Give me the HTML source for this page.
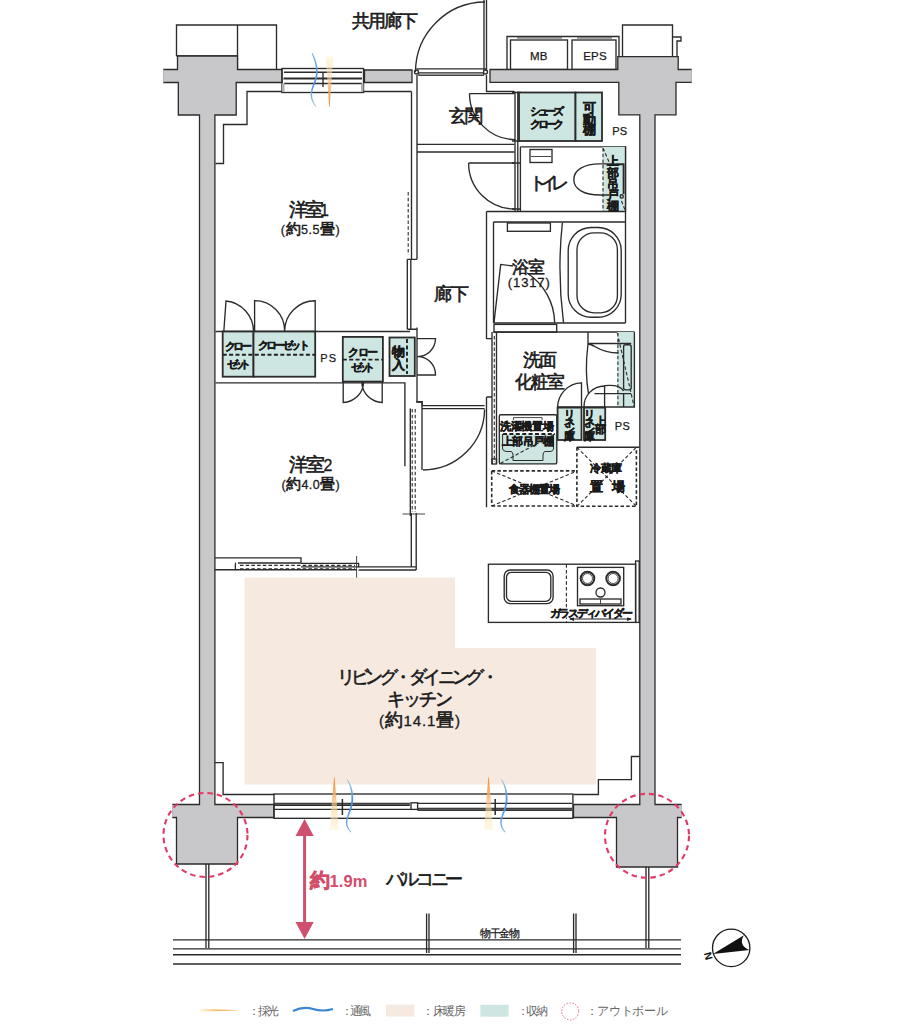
<!DOCTYPE html>
<html><head><meta charset="utf-8">
<style>
html,body{margin:0;padding:0;background:#fff;}
body{width:908px;height:1024px;overflow:hidden;}
svg{display:block;font-family:"Liberation Sans",sans-serif;}
.w{fill:#c8c8ca;stroke:#2b2b2b;stroke-width:1.3;}
.l{fill:none;stroke:#2b2b2b;stroke-width:1.35;}
.lt{fill:none;stroke:#333;stroke-width:0.9;}
.d{fill:none;stroke:#2b2b2b;stroke-width:1.1;stroke-dasharray:3.5 2.2;}
.dk{fill:none;stroke:#222;stroke-width:1.9;stroke-dasharray:4 2.4;}
.tl{fill:#cde6e2;stroke:#2b2b2b;stroke-width:1.8;}
.t{fill:#1a1a1a;stroke:#1a1a1a;stroke-width:0.3px;}
.t .cj{stroke:#1a1a1a;stroke-width:0.6px;}
.ts .cj{stroke:#1a1a1a;stroke-width:0.4px;}
.tr .cj{stroke:#d34d6b;stroke-width:0.6px;}
.ts{fill:#1a1a1a;font-weight:bold;}
.tn{fill:#1a1a1a;stroke:#1a1a1a;stroke-width:0.25px;}
.tr{fill:#d34d6b;font-weight:bold;}
.tg{fill:#666;}
.cj{font-size:1.2em;}
</style></head><body>
<svg width="908" height="1024" viewBox="0 0 908 1024">
<defs>
<linearGradient id="gOrU" x1="0" y1="1" x2="0" y2="0"><stop offset="0" stop-color="#f08a2a"/><stop offset="0.45" stop-color="#f8c888" stop-opacity="0.8"/><stop offset="1" stop-color="#fdf0c8" stop-opacity="0.5"/></linearGradient>
<linearGradient id="gOrD" x1="0" y1="0" x2="0" y2="1"><stop offset="0" stop-color="#f08a2a"/><stop offset="0.45" stop-color="#f8c888" stop-opacity="0.8"/><stop offset="1" stop-color="#fdf0c8" stop-opacity="0.5"/></linearGradient>
<linearGradient id="gOrL" x1="1" y1="0" x2="0" y2="0"><stop offset="0" stop-color="#f08a2a"/><stop offset="0.6" stop-color="#f7c070"/><stop offset="1" stop-color="#fdf0c8" stop-opacity="0.5"/></linearGradient>
</defs>
<rect width="908" height="1024" fill="#fff"/>
<!-- LDK floor -->
<path d="M244.5 577.5 H455 V648 H596 V784.5 H244.5 Z" fill="#f5e9e0"/>

<!-- ===== TOP ===== -->
<path class="l" d="M176.5 56 V25 H276.5 V69 M237.5 25 V69 M176.5 56 H237.5"/>
<path class="l" d="M622.5 56 V25 H672.5 V56"/>
<path class="l" d="M672.5 37 H681 V41 H677 V56"/>
<!-- MB / EPS -->
<path class="l" d="M507 69.5 V36.5 H619 V56"/>
<rect class="l" x="510.5" y="40" width="57" height="29.5"/>
<rect class="l" x="572" y="40" width="44" height="29.5"/>
<path class="lt" d="M517 38 H562 M577 38 H612"/>

<!-- walls -->
<path class="w" d="M164 69.5 H177.5 V56 H237.5 V69.5 H282 V82.5 H236.2 V115 H214.9 V804.5 H274 V817.5 H237.5 V864 H176.5 V817.5 H173 V804.5 H199.5 V115 H178.3 V82.5 H164 Z"/>
<path class="w" d="M490 69.5 H617.8 V56.6 H678.2 V69.5 H691 V82.3 H676 V114.8 H655 V804.5 H681 V817.5 H677.5 V867 H616.5 V817.5 H573.5 V804.5 H639.8 V114.8 H618.8 V82.3 H490 Z"/>
<path class="w" d="M364.5 70 H412 V82.5 H364.5 Z"/>
<path d="M163.2 70.2 H165.5 V81.8 H163.2 Z M689.2 70.2 H691.8 V81.6 H689.2 Z M172.2 805.2 H174.5 V816.8 H172.2 Z M679.6 805.2 H681.8 V816.8 H679.6 Z" fill="#c8c8ca"/>

<!-- top window -->
<rect class="l" x="282" y="68.5" width="81.5" height="24" fill="#fff"/>
<path class="l" d="M284 72.2 H362 M284 83.5 H362 M323 72 V87"/><path class="l" style="stroke-width:1.9" d="M283.5 78.5 H362"/>
<path d="M282 83.5 H284.5 V92 H282 Z M361 83.5 H363.5 V92 H361 Z" fill="#b0b0b0"/>

<!-- room1 top inner outline -->
<path class="l" d="M215.5 163.5 H223.5 V124.5 H247 V91.5 H282 M363.5 91.5 H411.5"/>

<!-- entrance door -->
<path class="l" d="M416.5 68.9 H486 M484 0 V70 M486.5 0 V70"/>
<rect x="418.7" y="72.7" width="65" height="2.8" fill="#9a9a9a" stroke="#333" stroke-width="0.9"/>
<path class="l" d="M415.5 72 A70 70 0 0 1 485 2"/>
<circle class="l" cx="416.5" cy="72" r="2" fill="#fff"/>
<circle class="l" cx="485.5" cy="72" r="2" fill="#fff"/>
<path class="l" d="M486.5 75 V91.5 H514.5"/>

<!-- room1 right wall / corridor left wall -->
<path class="l" d="M411.5 91.5 V259.3 M417 75 V259.3 M407.3 259.3 H417 M407.3 259.3 V329.2 M410.8 259.3 V329.2 M407.3 329.2 H417 M417 327.5 V402 H422.2 V406"/>
<path class="d" d="M408.2 192 V255"/>

<!-- genkan step -->
<path class="l" d="M417 144.3 H514.5 M417 152 H514.5"/>
<!-- entrance right wall -->
<path class="l" d="M515 91.5 V211.5 M517.8 91.5 V211.5"/>
<path class="l" d="M512 92.5 H521 M512 141 H521 M512 163 H521 M512 209 H521"/>
<!-- shoes cloak -->
<rect class="tl" x="519" y="92.5" width="56.5" height="48.5"/>
<rect class="tl" x="575.5" y="92.5" width="26.5" height="48.5"/>
<!-- genkan door arc -->
<path class="l" d="M469.5 93.6 H514.5 M469.5 93.6 A46 46 0 0 0 515.5 139.6"/>
<!-- toilet door arc -->
<path class="l" d="M468.6 163 H514.5 M468.6 163 A46 46 0 0 0 514.6 209"/>

<!-- toilet -->
<path class="l" d="M520.4 146.8 H625.5 V211.5 M520.4 146.8 V211.5"/>
<rect class="tl" x="602.7" y="147" width="22.8" height="64.5" style="stroke:none"/>
<path class="l" d="M625.5 146.5 V211.5"/>
<path class="d" d="M603 148 V211 M603 148 L609.5 163 M621.5 201 L625 210"/>
<rect class="l" x="530" y="149.5" width="22" height="13"/>
<path class="lt" d="M531 156.5 H551"/>
<path class="l" d="M615.5 163.8 H600 C584 163.8 573.8 170 573.8 179.4 C573.8 189 584 195 600 195 H609.3"/>
<path class="l" d="M615.5 164.2 H623.6 V194" style="stroke-width:1.9"/>
<circle class="l" cx="621.7" cy="196.4" r="1.6"/>


<!-- bath -->
<path class="l" d="M486.5 211.5 H625.5 V323 M486.5 211.5 V338.6 H492"/>
<path class="l" d="M493.5 222 H625.5 M493.5 222 V323 M493.5 323 H625.5 M493.5 332 H634.4"/>
<rect class="l" x="507.4" y="223" width="43" height="8.3"/>
<path class="l" d="M562.4 222.5 Q557 272 563.5 322.7"/>
<rect class="l" x="568.2" y="227.5" width="53" height="89.7" rx="23"/>
<rect class="l" x="577" y="232.8" width="40.4" height="80" rx="17"/>
<path class="l" d="M512.9 266 L500.7 264.4 L494 322.7 M527 273 A60.7 60.7 0 0 1 554.7 322.7"/>
<rect class="l" x="494" y="324.4" width="62.7" height="7.8"/>

<!-- washroom -->
<path class="l" d="M492 332 V464 M496.5 332 V464 M486.5 397 H492 M486.5 397 V507.3"/>
<path class="d" d="M494.3 336 V462"/>
<rect class="l" x="492" y="459" width="4.5" height="5"/>
<!-- vanity -->
<rect class="tl" x="617.3" y="332" width="17.1" height="75" style="stroke:none"/>
<path class="l" d="M634.4 332 V407 H557.5"/>
<path class="l" d="M588 332 V344 M588 343.5 H631.2 M588 344 C595 344 598 353 618.5 353 M588 344 C586 360 586 380 588.5 393.6 M594.4 393.6 H631.2 M623.6 393.6 V407"/>
<rect class="l" x="623.6" y="344.7" width="7.6" height="45.1" rx="2"/>
<path class="d" d="M617.9 333 V406 M617.3 333 L634 406"/>
<!-- linen -->
<rect class="tl" x="557.6" y="407.6" width="23.9" height="32.4"/>
<rect class="tl" x="584" y="407.6" width="21.2" height="32.4"/>
<path class="l" d="M581.5 407.6 V382.8 A24.7 24.7 0 0 0 557.6 407.6"/>
<path class="l" d="M604.6 407.6 V386 A20.6 20.6 0 0 0 584 407.6"/>
<path class="l" d="M604.6 385.6 C613 384.8 620.5 385.5 623.6 391"/>
<!-- washer -->
<rect x="499.3" y="434" width="57.5" height="30" fill="#cde6e2"/>
<rect class="l" x="499.3" y="414.7" width="57.5" height="49.2" rx="1.5"/>
<path class="lt" d="M513.4 420 V417.6 H542.1 V420"/>
<path class="dk" d="M503 434 H555"/>
<path class="l" d="M502.6 434 V449 Q503 451.5 507 451.5 H511 Q513 452 513 455 V460.5 H543 V455 Q543 452 545 451.5 H550 Q553 451.5 553.5 449 V434" style="stroke-width:1"/>
<path class="d" d="M500.5 463.3 L555 434"/>
<!-- shokki -->
<path class="d" d="M491.7 470.9 L577.3 506 M491.7 506 L577.3 470.9"/><path class="d" style="stroke-width:1.6" d="M491.7 470.9 H577.3 M491.7 506 H577.3 M491.7 470.9 V506"/>
<!-- fridge -->
<path class="l" d="M576.9 447.3 H639.4" style="stroke-width:1.6"/>
<path class="d" d="M576.9 447.3 L636.4 506.3 M576.9 506.3 L636.4 447.3"/><path class="d" style="stroke-width:1.6" d="M576.9 447.3 V506.3 H636.4 V447.3"/>

<!-- corridor-room2 area -->
<path class="l" d="M215.5 382.8 H404.9 V466.2 M410.3 408.6 V516 M416.2 401.7 H422 V470"/>
<path class="d" d="M412.2 409 V512 M415.2 409 V512"/>
<path class="l" d="M422 405.6 H484.6 M422 408.6 H484.6 M484.6 409.5 A61.6 61.6 0 0 1 423 470"/>
<!-- closets -->
<path class="l" d="M215.5 331.5 H410"/>
<rect class="tl" x="222.7" y="331.5" width="30.8" height="45.2"/>
<rect class="tl" x="253.5" y="331.5" width="61.7" height="45.2"/>
<path class="dk" d="M222.7 354.7 H315.2"/>
<path class="l" d="M223.8 331.5 L226 301 A30.5 30.5 0 0 1 253.5 331.5 M254.6 331.5 V300.7 A30 30 0 0 1 284.6 331.5 M315.2 331.5 V300.7 A30.6 30.6 0 0 0 284.6 331.5"/>
<rect class="tl" x="342.8" y="336.9" width="40.1" height="44.7"/>
<path class="dk" d="M342.8 359.6 H382.9"/>
<path class="l" d="M343.2 381.6 V402.5 A21 21 0 0 0 363.6 382 M382.2 381.6 V402.5 A21 21 0 0 1 361.8 382"/>
<rect class="tl" x="389.5" y="337.5" width="25.3" height="38.5"/>
<path class="dk" d="M407 339 V374"/>
<path class="l" d="M417 338.6 H435.5 A18 18 0 0 1 417 356.6 A18 18 0 0 1 435.5 375 H417"/>

<!-- room2 bottom sliding door -->
<path class="l" d="M214.9 557.8 H301 V562.8 M214.9 569.7 H235.7"/>
<path class="l" d="M238 563 H301 M236 563 Q235 563 235.5 569.7 H356.6 M301 563.4 H358.6 V566.8 H301"/>
<path class="d" d="M240 565.4 H355 M240 568.7 H355"/>
<path class="l" d="M358.6 566.9 H416.2 M358.6 570 H416.2 M416.2 513 V570 M411.3 513 V567"/>
<path class="lt" d="M356.6 556 V577.7 M402.5 514 H425"/>

<!-- kitchen -->
<rect class="l" x="488.4" y="564.2" width="147.2" height="58.2"/>
<rect class="l" x="635.6" y="561" width="3.6" height="61.4"/>
<rect class="l" x="504.2" y="570" width="48.9" height="33.6" rx="6"/>
<rect class="l" x="506.5" y="572.3" width="44.3" height="29" rx="5"/>
<path class="d" d="M566.4 564.2 V622.4"/>
<rect class="l" x="577.5" y="567.4" width="46.2" height="38.3"/>
<circle class="l" cx="587.5" cy="578.5" r="6.8" style="stroke-width:2"/><circle class="lt" cx="587.5" cy="578.5" r="5"/>
<circle class="l" cx="613.1" cy="578.5" r="6.8" style="stroke-width:2"/><circle class="lt" cx="613.1" cy="578.5" r="5"/>
<circle class="l" cx="600.5" cy="592.5" r="4.5"/>
<rect class="l" x="580" y="599" width="41" height="5"/>
<path class="lt" d="M600.5 599 V604"/>
<path d="M570 619 H631" stroke="#222" stroke-width="1.1"/><path d="M569 619 L574 617 V621 Z M632 619 L627 617 V621 Z" fill="#222"/>

<!-- LDK inner lines -->
<path class="l" d="M214.5 762.6 H223.1 V794.5 H274 M639.7 756.5 H631.4 V779.6 H598.4 V794.5 H573.6"/>

<!-- bottom window -->
<rect class="l" x="274" y="794" width="298.9" height="24.3" fill="none"/>
<path class="l" d="M274 803.3 H409.8 M274 805.2 H409.8 M417.5 808.4 H572 M417.5 810.3 H572 M274 809.3 H411 M417.5 803.3 H572"/>
<path d="M275 803.5 H409.8 V805 H275 Z M418 808.5 H572 V810.3 H418 Z" fill="#555"/>
<rect class="l" x="411" y="802.8" width="6.6" height="6.6" fill="#fff"/>
<path class="l" d="M342.4 799 V815 M495.2 799 V815" style="stroke-width:1.5"/>


<!-- airflow icons -->
<defs>
<linearGradient id="bl" x1="0" y1="0" x2="0" y2="1"><stop offset="0" stop-color="#a8c8ee"/><stop offset="0.45" stop-color="#4a8edc"/><stop offset="1" stop-color="#80b4ea"/></linearGradient>
<linearGradient id="blU" x1="0" y1="1" x2="0" y2="0"><stop offset="0" stop-color="#a8c8ee"/><stop offset="0.45" stop-color="#4a8edc"/><stop offset="1" stop-color="#80b4ea"/></linearGradient>
<linearGradient id="orD2" x1="0" y1="0" x2="0" y2="1"><stop offset="0" stop-color="#f08a30"/><stop offset="0.3" stop-color="#f5a860" stop-opacity="0.85"/><stop offset="0.6" stop-color="#fad8a0" stop-opacity="0.6"/><stop offset="1" stop-color="#fdf0c8" stop-opacity="0.45"/></linearGradient>
<linearGradient id="orU2" x1="0" y1="1" x2="0" y2="0"><stop offset="0" stop-color="#f08a30"/><stop offset="0.3" stop-color="#f5a860" stop-opacity="0.85"/><stop offset="0.6" stop-color="#fad8a0" stop-opacity="0.6"/><stop offset="1" stop-color="#fdf0c8" stop-opacity="0.45"/></linearGradient>
</defs>
<path d="M325.5 56.5 H333.5 C332 72 330.8 92 329.8 107 H329.2 C328.2 92 327 72 325.5 56.5 Z" fill="url(#orU2)"/>
<path d="M312.5 53 C316 60 318.2 66 317.6 74 C317 82 312 88 312 95 C312 99 314 103 316.3 106.5 L315.6 106.8 C312.5 103 310.6 99 310.6 95 C310.6 87 315.6 81 316 74 C316.4 66 314.5 60 311.6 53.4 Z" fill="url(#blU)"/>
<g id="ic1">
<path d="M334 777.5 H334.6 C335.6 790 337.5 808 338.6 830 H330 C331.1 808 333 790 334 777.5 Z" fill="url(#orD2)"/>
<path d="M347.4 779 C351.5 785 353.6 792 353.2 800 C352.8 810 347.6 815.5 347.4 822.5 C347.3 826 349 829 351.3 832 L350.6 832.4 C347.8 829.5 345.8 826 345.9 822.5 C346.2 815 351 809.5 351.4 800 C351.8 792 350.3 785.5 346.8 779.4 Z" fill="url(#bl)"/>
</g>
<use href="#ic1" x="154.3"/>

<!-- balcony -->
<path class="l" d="M206 864 V948 M208.8 864 V948 M646 867 V948 M648.8 867 V948"/>
<path class="l" d="M173 939.9 H681 M173 948.8 H681 M173 954.7 H681 M173 964 H681"/>
<path class="l" d="M426.6 913.4 V953 M429 913.4 V953 M573.6 913.4 V953 M576 913.4 V953"/>

<!-- red dashed circles -->
<circle cx="205.5" cy="835" r="42" fill="none" stroke="#e23a65" stroke-width="2.1" stroke-dasharray="5.5 4"/>
<circle cx="647" cy="835.8" r="42" fill="none" stroke="#e23a65" stroke-width="2.1" stroke-dasharray="5.5 4"/>

<!-- red arrow -->
<path d="M304.6 829 V928" stroke="#cf4f6e" stroke-width="3"/>
<path d="M304.6 819 L295.5 836 H313.7 Z M304.6 939 L295.5 922 H313.7 Z" fill="#cf4f6e"/>

<!-- texts -->
<rect x="552" y="607.5" width="80" height="10" fill="#fff"/>

<text id="lb0" class="t" x="385.1" y="26.7" font-size="15" text-anchor="middle" textLength="66.5" lengthAdjust="spacing"><tspan class="cj">共用廊下</tspan></text>
<text id="lb1" class="t" x="466.4" y="121.7" font-size="15" text-anchor="middle" textLength="34.0" lengthAdjust="spacing"><tspan class="cj">玄関</tspan></text>
<text id="lb2" class="t" x="309.1" y="215.5" font-size="16" text-anchor="middle" textLength="39.7" lengthAdjust="spacing"><tspan class="cj">洋室</tspan>1</text>
<text id="lb3" class="t" x="310.3" y="234.3" font-size="12.5" text-anchor="middle" textLength="58.9" lengthAdjust="spacing">(<tspan class="cj">約</tspan>5.5<tspan class="cj">畳</tspan>)</text>
<text id="lb4" class="t" x="310.9" y="471.3" font-size="16" text-anchor="middle" textLength="43.2" lengthAdjust="spacing"><tspan class="cj">洋室</tspan>2</text>
<text id="lb5" class="t" x="310.6" y="489.1" font-size="12.5" text-anchor="middle" textLength="58.3" lengthAdjust="spacing">(<tspan class="cj">約</tspan>4.0<tspan class="cj">畳</tspan>)</text>
<text id="lb6" class="t" x="451.9" y="299.5" font-size="15" text-anchor="middle" textLength="35.0" lengthAdjust="spacing"><tspan class="cj">廊下</tspan></text>
<text id="lb7" class="t" x="549.1" y="189.3" font-size="15" text-anchor="middle" textLength="40.5" lengthAdjust="spacing"><tspan class="cj">トイレ</tspan></text>
<text id="lb8" class="t" x="528.1" y="272.5" font-size="14" text-anchor="middle" textLength="33.1" lengthAdjust="spacing"><tspan class="cj">浴室</tspan></text>
<text id="lb9" class="t" x="528.8" y="287.1" font-size="13" text-anchor="middle" textLength="41.9" lengthAdjust="spacing">(1317)</text>
<text id="lb10" class="t" x="539.9" y="365.9" font-size="15" text-anchor="middle" textLength="34.0" lengthAdjust="spacing"><tspan class="cj">洗面</tspan></text>
<text id="lb11" class="t" x="540.4" y="387.7" font-size="15" text-anchor="middle" textLength="50.1" lengthAdjust="spacing"><tspan class="cj">化粧室</tspan></text>
<text id="lb12" class="t" x="417.7" y="682.9" font-size="15" text-anchor="middle" textLength="162.4" lengthAdjust="spacing"><tspan class="cj">リビング・ダイニング・</tspan></text>
<text id="lb13" class="t" x="419.9" y="705.4" font-size="15" text-anchor="middle" textLength="66.0" lengthAdjust="spacing"><tspan class="cj">キッチン</tspan></text>
<text id="lb14" class="t" x="419.5" y="725.7" font-size="15" text-anchor="middle" textLength="81.2" lengthAdjust="spacing">(<tspan class="cj">約</tspan>14.1<tspan class="cj">畳</tspan>)</text>
<text id="lb15" class="t" x="424.9" y="884.7" font-size="15" text-anchor="middle" textLength="76.9" lengthAdjust="spacing"><tspan class="cj">バルコニー</tspan></text>
<text id="lb16" class="ts" x="547.1" y="114.8" font-size="9.5" text-anchor="middle" textLength="33.6" lengthAdjust="spacing"><tspan class="cj">シューズ</tspan></text>
<text id="lb17" class="ts" x="547.1" y="128.2" font-size="9.5" text-anchor="middle" textLength="33.6" lengthAdjust="spacing"><tspan class="cj">クローク</tspan></text>
<text id="lb18" class="ts" x="238.6" y="350.4" font-size="9.5" text-anchor="middle" textLength="26.7" lengthAdjust="spacing"><tspan class="cj">クロー</tspan></text>
<text id="lb19" class="ts" x="239.3" y="367.5" font-size="9.5" text-anchor="middle" textLength="24.1" lengthAdjust="spacing"><tspan class="cj">ゼット</tspan></text>
<text id="lb20" class="ts" x="283.9" y="348.8" font-size="9.5" text-anchor="middle" textLength="51.2" lengthAdjust="spacing"><tspan class="cj">クローゼット</tspan></text>
<text id="lb21" class="ts" x="363.1" y="355.7" font-size="9.5" text-anchor="middle" textLength="29.4" lengthAdjust="spacing"><tspan class="cj">クロー</tspan></text>
<text id="lb22" class="ts" x="363.1" y="371.4" font-size="9.5" text-anchor="middle" textLength="23.7" lengthAdjust="spacing"><tspan class="cj">ゼット</tspan></text>
<text id="lb23" class="ts" x="526.9" y="430.3" font-size="9.5" text-anchor="middle" textLength="53.2" lengthAdjust="spacing"><tspan class="cj">洗濯機置場</tspan></text>
<text id="lb24" class="ts" x="528.1" y="445.2" font-size="9.5" text-anchor="middle" textLength="52.4" lengthAdjust="spacing"><tspan class="cj">上部吊戸棚</tspan></text>
<text id="lb25" class="ts" x="534.6" y="492.8" font-size="9.5" text-anchor="middle" textLength="51.7" lengthAdjust="spacing"><tspan class="cj">食器棚置場</tspan></text>
<text id="lb26" class="ts" x="606.2" y="471.8" font-size="9.5" text-anchor="middle" textLength="32.5" lengthAdjust="spacing"><tspan class="cj">冷蔵庫</tspan></text>
<text id="lb27" class="ts" x="596.0" y="491.3" font-size="11" text-anchor="middle"><tspan class="cj">置</tspan></text>
<text id="lb28" class="ts" x="618.2" y="491.3" font-size="11" text-anchor="middle"><tspan class="cj">場</tspan></text>
<text id="lb29" class="ts" x="591.6" y="617.1" font-size="8.8" text-anchor="middle" textLength="82.5" lengthAdjust="spacing"><tspan class="cj">ガラスディバイダー</tspan></text>
<text id="lb30" class="tn" x="500.0" y="937.0" font-size="9" text-anchor="middle" textLength="39.4" lengthAdjust="spacing"><tspan class="cj">物干金物</tspan></text>
<text id="lb31" class="ts" x="589.0" y="111.7" font-size="11" text-anchor="middle"><tspan class="cj">可</tspan></text>
<text id="lb32" class="ts" x="589.0" y="124.1" font-size="11" text-anchor="middle"><tspan class="cj">動</tspan></text>
<text id="lb33" class="ts" x="589.0" y="134.1" font-size="11" text-anchor="middle"><tspan class="cj">棚</tspan></text>
<text id="lb34" class="ts" x="398.4" y="355.5" font-size="11" text-anchor="middle"><tspan class="cj">物</tspan></text>
<text id="lb35" class="ts" x="398.4" y="368.7" font-size="11" text-anchor="middle"><tspan class="cj">入</tspan></text>
<text id="lb36" class="ts" x="613.0" y="165.3" font-size="10" text-anchor="middle"><tspan class="cj">上</tspan></text>
<text id="lb37" class="ts" x="613.0" y="176.5" font-size="10" text-anchor="middle"><tspan class="cj">部</tspan></text>
<text id="lb38" class="ts" x="613.0" y="187.5" font-size="10" text-anchor="middle"><tspan class="cj">吊</tspan></text>
<text id="lb39" class="ts" x="613.0" y="198.5" font-size="10" text-anchor="middle"><tspan class="cj">戸</tspan></text>
<text id="lb40" class="ts" x="613.0" y="209.7" font-size="10" text-anchor="middle"><tspan class="cj">棚</tspan></text>
<text id="lb41" class="ts" x="569.7" y="417.6" font-size="9" text-anchor="middle"><tspan class="cj">リ</tspan></text>
<text id="lb42" class="ts" x="569.7" y="425.6" font-size="9" text-anchor="middle"><tspan class="cj">ネ</tspan></text>
<text id="lb43" class="ts" x="569.7" y="433.3" font-size="9" text-anchor="middle"><tspan class="cj">ン</tspan></text>
<text id="lb44" class="ts" x="569.7" y="440.1" font-size="9" text-anchor="middle"><tspan class="cj">庫</tspan></text>
<text id="lb45" class="ts" x="589.7" y="417.6" font-size="9" text-anchor="middle"><tspan class="cj">リ</tspan></text>
<text id="lb46" class="ts" x="589.7" y="425.6" font-size="9" text-anchor="middle"><tspan class="cj">ネ</tspan></text>
<text id="lb47" class="ts" x="589.7" y="433.3" font-size="9" text-anchor="middle"><tspan class="cj">ン</tspan></text>
<text id="lb48" class="ts" x="589.7" y="440.1" font-size="9" text-anchor="middle"><tspan class="cj">庫</tspan></text>
<text id="lb49" class="ts" x="600.2" y="424.6" font-size="9" text-anchor="middle"><tspan class="cj">上</tspan></text>
<text id="lb50" class="ts" x="600.2" y="432.8" font-size="9" text-anchor="middle"><tspan class="cj">部</tspan></text>
<text id="lb51" class="tn" x="538.8" y="59.5" font-size="11.5" text-anchor="middle" textLength="17.4" lengthAdjust="spacing">MB</text>
<text id="lb52" class="tn" x="594.9" y="59.5" font-size="11.5" text-anchor="middle" textLength="23.3" lengthAdjust="spacing">EPS</text>
<text id="lb53" class="tn" x="619.6" y="134.7" font-size="11" text-anchor="middle" textLength="14.8" lengthAdjust="spacing">PS</text>
<text id="lb54" class="tn" x="328.2" y="361.5" font-size="11" text-anchor="middle" textLength="15.7" lengthAdjust="spacing">PS</text>
<text id="lb55" class="tn" x="622.3" y="430.1" font-size="11" text-anchor="middle" textLength="15.3" lengthAdjust="spacing">PS</text>
<text id="lb56" class="tr" x="338.4" y="886.5" font-size="16.5" text-anchor="middle" textLength="57.8" lengthAdjust="spacing"><tspan class="cj">約</tspan>1.9m</text>
<text id="lb57" class="tg" x="263.5" y="1015.3" font-size="10" text-anchor="middle" textLength="30.5" lengthAdjust="spacing"><tspan class="cj">：採光</tspan></text>
<text id="lb58" class="tg" x="356.1" y="1015.3" font-size="10" text-anchor="middle" textLength="29.3" lengthAdjust="spacing"><tspan class="cj">：通風</tspan></text>
<text id="lb59" class="tg" x="444.0" y="1015.3" font-size="10" text-anchor="middle" textLength="43.4" lengthAdjust="spacing"><tspan class="cj">：床暖房</tspan></text>
<text id="lb60" class="tg" x="532.4" y="1015.3" font-size="10" text-anchor="middle" textLength="30.4" lengthAdjust="spacing"><tspan class="cj">：収納</tspan></text>
<text id="lb61" class="tg" x="626.7" y="1015.3" font-size="10" text-anchor="middle" textLength="82.0" lengthAdjust="spacing"><tspan class="cj">：アウトボール</tspan></text>
<!-- compass -->
<circle cx="731.2" cy="947.9" r="18.7" fill="#fff" stroke="#1a1a1a" stroke-width="1.3"/>
<path d="M713 954 L743.9 935.2 Q738 945 749.4 950.1 Z" fill="#111"/>
<text x="708" y="960" font-size="10.5" font-weight="bold" fill="#111" text-anchor="middle" transform="rotate(-105 708 956)">N</text>

<!-- legend -->
<path d="M199.6 1008.8 L239.6 1010.2 L199.6 1011.8 Z" fill="url(#gOrL)"/>
<path d="M293 1011 Q303 1006 313 1009 Q323 1012 333 1009" fill="none" stroke="#3a86d0" stroke-width="2"/>
<rect x="386" y="1004.6" width="28.4" height="11.9" fill="#f5e9e0"/>
<rect x="480.4" y="1004.8" width="28.2" height="11.9" fill="#cde6e2"/>
<circle cx="570.2" cy="1011.4" r="8.5" fill="none" stroke="#e66a8a" stroke-width="1" stroke-dasharray="1.5 1.5"/>
</svg>
</body></html>
